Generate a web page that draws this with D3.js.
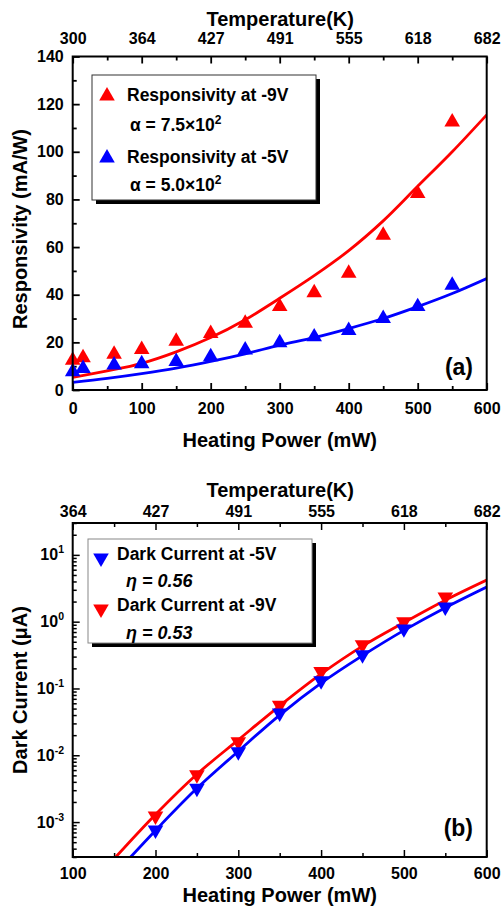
<!DOCTYPE html>
<html><head><meta charset="utf-8">
<script src="https://cdn.jsdelivr.net/npm/d3@7"></script>
<style>
body{margin:0;background:#fff}
text{font-family:"Liberation Sans",Arial,sans-serif;font-weight:bold;fill:#000}
</style>
</head><body>
<svg id="c" width="501" height="910"></svg>
<script>
// ---- Panel (a) data ----
const powerA = [0,15,60,100,150,200,250,300,350,400,450,500,550];
const resp9V = [12.5,13.5,15,17,20.5,23.7,28,35,40.8,49,65,82.5,112.5];
const resp5V = [7.7,9,10.5,11,12,14,16.8,19.8,22.3,25,30,35,44];
const fitPowerA = [0,50,100,150,200,250,300,350,400,450,500,550,600];
const fit9V = [5.3,8,11.2,16,22,29.5,38.5,48,58.5,71,85.5,100,115.5];
const fit5V = [3.2,4.9,6.9,9.2,12,15.2,18.8,22,25.8,30,35,40.5,46.8];
const tempTicksA = ["300","364","427","491","555","618","682"];
const tempPowerA = [0,100,200,300,400,500,600];
const yTicksA = [0,20,40,60,80,100,120,140];

// ---- Panel (b) data ----
const powerB = [200,250,300,350,400,450,500,550];
const dark5V = [0.00076,0.0032,0.0113,0.043,0.13,0.32,0.78,1.66];
const dark9V = [0.00123,0.0051,0.016,0.056,0.18,0.45,1.0,2.34];
const fitPowerB5 = [170,200,250,300,350,400,450,500,550,600];
const fitDark5 = [0.0003,0.00075,0.0032,0.0115,0.04,0.12,0.31,0.74,1.62,3.3];
const fitPowerB9 = [152,200,250,300,350,400,450,500,550,600];
const fitDark9 = [0.0003,0.0013,0.0052,0.017,0.055,0.165,0.43,0.97,2.1,4.2];
const tempTicksB = ["364","427","491","555","618","682"];
const tempPowerB = [100,200,300,400,500,600];
const yExpB = [1,0,-1,-2,-3];

const RED = "#ff0000", BLUE = "#0000ff";
const svg = d3.select("#c");
const L = 72.7, R = 486.7;
const TICKF = "16px", TITLEF = "20px", LEGF = "17.5px";

function frame(g, y){
  g.append("rect").attr("x",L).attr("y",y.range()[1]).attr("width",R-L)
   .attr("height",y.range()[0]-y.range()[1]).attr("fill","none")
   .attr("stroke","#000").attr("stroke-width",2);
}
function styleTicks(g){
  g.selectAll(".domain").remove();
  g.selectAll(".tick line").attr("stroke","#000").attr("stroke-width",1.8);
  g.selectAll(".tick text").style("font-size",TICKF).style("font-family","'Liberation Sans',Arial,sans-serif").style("font-weight","bold").attr("fill","#000");
}

// ================= Panel (a) =================
{
  const T = 56.5, B = 390;
  const x = d3.scaleLinear().domain([0,600]).range([L,R]);
  const y = d3.scaleLinear().domain([0,140]).range([B,T]);
  const g = svg.append("g");
  const cid = "clipA";
  g.append("clipPath").attr("id",cid).append("rect")
    .attr("x",L).attr("y",T).attr("width",R-L).attr("height",B-T);

  g.append("g").attr("transform",`translate(0,${B})`)
    .call(d3.axisBottom(x).tickValues(d3.range(0,601,100)).tickSize(-7).tickPadding(13).tickFormat(d3.format("d")));
  g.append("g").attr("transform",`translate(0,${B})`)
    .call(d3.axisBottom(x).tickValues(d3.range(50,601,100)).tickSize(-4).tickFormat(""));
  g.append("g").attr("transform",`translate(0,${T})`)
    .call(d3.axisTop(x).tickValues(tempPowerA).tickSize(-7).tickPadding(12.5).tickFormat((d,i)=>tempTicksA[i]));
  g.append("g").attr("transform",`translate(0,${T})`)
    .call(d3.axisTop(x).tickValues(d3.range(50,601,100)).tickSize(-4).tickFormat(""));
  g.append("g").attr("transform",`translate(${L},0)`)
    .call(d3.axisLeft(y).tickValues(yTicksA).tickSize(-7).tickPadding(9).tickFormat(d3.format("d")));
  g.append("g").attr("transform",`translate(${L},0)`)
    .call(d3.axisLeft(y).tickValues(d3.range(10,140,20)).tickSize(-4).tickFormat(""));
  styleTicks(g);

  const line = d3.line().x(d=>x(d[0])).y(d=>y(d[1])).curve(d3.curveCatmullRom);
  g.append("path").attr("clip-path",`url(#${cid})`)
    .datum(fitPowerA.map((p,i)=>[p,fit9V[i]])).attr("d",line)
    .attr("fill","none").attr("stroke",RED).attr("stroke-width",2.8);
  g.append("path").attr("clip-path",`url(#${cid})`)
    .datum(fitPowerA.map((p,i)=>[p,fit5V[i]])).attr("d",line)
    .attr("fill","none").attr("stroke",BLUE).attr("stroke-width",2.8);

  const tri = d3.symbol().type(d3.symbolTriangle).size(105);
  g.selectAll(".r").data(powerA.map((p,i)=>[p,resp9V[i]])).join("path")
    .attr("d",tri).attr("fill",RED).attr("transform",d=>`translate(${x(d[0])},${y(d[1])})`);
  g.selectAll(".b").data(powerA.map((p,i)=>[p,resp5V[i]])).join("path")
    .attr("d",tri).attr("fill",BLUE).attr("transform",d=>`translate(${x(d[0])},${y(d[1])})`);

  frame(g,y);

  g.append("text").attr("x",(L+R)/2+0.5).attr("y",25.5).attr("text-anchor","middle").style("font-size",TITLEF).text("Temperature(K)");
  g.append("text").attr("x",(L+R)/2).attr("y",447).attr("text-anchor","middle").style("font-size",TITLEF).text("Heating Power (mW)");
  g.append("text").attr("transform",`translate(26.5,229) rotate(-90)`).attr("text-anchor","middle").style("font-size",TITLEF).text("Responsivity (mA/W)");
  g.append("text").attr("x",473).attr("y",375).attr("text-anchor","end").style("font-size","23px").text("(a)");

  const lg = g.append("g");
  lg.append("rect").attr("x",96).attr("y",79).attr("width",224).attr("height",125).attr("fill","#000");
  lg.append("rect").attr("x",92).attr("y",75).attr("width",224).attr("height",125).attr("fill","#fff").attr("stroke","#333").attr("stroke-width",1);
  lg.append("path").attr("d",tri).attr("fill",RED).attr("transform","translate(107,96)");
  lg.append("text").attr("x",127).attr("y",100.5).style("font-size",LEGF).text("Responsivity at -9V");
  const a1 = lg.append("text").attr("x",130).attr("y",131).style("font-size",LEGF);
  a1.append("tspan").text("α = 7.5×10");
  a1.append("tspan").attr("dy",-7).style("font-size","12px").text("2");
  lg.append("path").attr("d",tri).attr("fill",BLUE).attr("transform","translate(107,158)");
  lg.append("text").attr("x",127).attr("y",163).style("font-size",LEGF).text("Responsivity at -5V");
  const a2 = lg.append("text").attr("x",130).attr("y",191).style("font-size",LEGF);
  a2.append("tspan").text("α = 5.0×10");
  a2.append("tspan").attr("dy",-7).style("font-size","12px").text("2");
}

// ================= Panel (b) =================
{
  const T = 523, B = 857;
  const x = d3.scaleLinear().domain([100,600]).range([L,R]);
  const y = d3.scaleLog().domain([3e-4,30]).range([B,T]);
  const g = svg.append("g");
  const cid = "clipB";
  g.append("clipPath").attr("id",cid).append("rect")
    .attr("x",L).attr("y",T).attr("width",R-L).attr("height",B-T);

  g.append("g").attr("transform",`translate(0,${B})`)
    .call(d3.axisBottom(x).tickValues(d3.range(100,601,100)).tickSize(-7).tickPadding(11).tickFormat(d3.format("d")));
  g.append("g").attr("transform",`translate(0,${B})`)
    .call(d3.axisBottom(x).tickValues(d3.range(150,601,100)).tickSize(-4).tickFormat(""));
  g.append("g").attr("transform",`translate(0,${T})`)
    .call(d3.axisTop(x).tickValues(tempPowerB).tickSize(-7).tickPadding(6).tickFormat((d,i)=>tempTicksB[i]));
  g.append("g").attr("transform",`translate(0,${T})`)
    .call(d3.axisTop(x).tickValues(d3.range(150,601,100)).tickSize(-4).tickFormat(""));
  const majors = yExpB.map(e=>Math.pow(10,e));
  const minors = y.ticks().filter(v=>majors.indexOf(v)<0);
  g.append("g").attr("transform",`translate(${L},0)`)
    .call(d3.axisLeft(y).tickValues(majors).tickSize(-7).tickFormat(""));
  g.append("g").attr("transform",`translate(${L},0)`)
    .call(d3.axisLeft(y).tickValues(minors).tickSize(-4).tickFormat(""));
  styleTicks(g);
  g.selectAll(".tick line").attr("stroke-width",1.5);
  yExpB.forEach(e=>{
    const t = g.append("text").attr("x",64).attr("y",y(Math.pow(10,e))+5.5).attr("text-anchor","end").style("font-size",TICKF);
    t.append("tspan").text("10");
    t.append("tspan").attr("dy",-7).style("font-size","10.5px").text(String(e));
  });

  const line = d3.line().x(d=>x(d[0])).y(d=>y(d[1])).curve(d3.curveCatmullRom);
  g.append("path").attr("clip-path",`url(#${cid})`)
    .datum(fitPowerB9.map((p,i)=>[p,fitDark9[i]])).attr("d",line)
    .attr("fill","none").attr("stroke",RED).attr("stroke-width",2.8);
  g.append("path").attr("clip-path",`url(#${cid})`)
    .datum(fitPowerB5.map((p,i)=>[p,fitDark5[i]])).attr("d",line)
    .attr("fill","none").attr("stroke",BLUE).attr("stroke-width",2.8);

  const tri = d3.symbol().type(d3.symbolTriangle).size(105);
  g.selectAll(".r").data(powerB.map((p,i)=>[p,dark9V[i]])).join("path")
    .attr("d",tri).attr("fill",RED).attr("transform",d=>`translate(${x(d[0])},${y(d[1])}) rotate(180)`);
  g.selectAll(".b").data(powerB.map((p,i)=>[p,dark5V[i]])).join("path")
    .attr("d",tri).attr("fill",BLUE).attr("transform",d=>`translate(${x(d[0])},${y(d[1])}) rotate(180)`);

  frame(g,y);

  g.append("text").attr("x",(L+R)/2+0.5).attr("y",497).attr("text-anchor","middle").style("font-size",TITLEF).text("Temperature(K)");
  g.append("text").attr("x",(L+R)/2).attr("y",902).attr("text-anchor","middle").style("font-size",TITLEF).text("Heating Power (mW)");
  g.append("text").attr("transform",`translate(26.5,690) rotate(-90)`).attr("text-anchor","middle").style("font-size",TITLEF).text("Dark Current (μA)");
  g.append("text").attr("x",473).attr("y",836).attr("text-anchor","end").style("font-size","23px").text("(b)");

  const lg = g.append("g");
  lg.append("rect").attr("x",92).attr("y",543).attr("width",224).attr("height",104).attr("fill","#000");
  lg.append("rect").attr("x",88).attr("y",539).attr("width",224).attr("height",104).attr("fill","#fff").attr("stroke","#888").attr("stroke-width",1);
  lg.append("path").attr("d",tri).attr("fill",BLUE).attr("transform","translate(101,558) rotate(180)");
  lg.append("text").attr("x",117).attr("y",559.5).style("font-size",LEGF).text("Dark Current at -5V");
  lg.append("text").attr("x",126).attr("y",586.5).style("font-size","18px").style("font-style","italic").text("η = 0.56");
  lg.append("path").attr("d",tri).attr("fill",RED).attr("transform","translate(101,609) rotate(180)");
  lg.append("text").attr("x",117).attr("y",611).style("font-size",LEGF).text("Dark Current at -9V");
  lg.append("text").attr("x",126).attr("y",639).style("font-size","18px").style("font-style","italic").text("η = 0.53");
}
</script>
</body></html>
